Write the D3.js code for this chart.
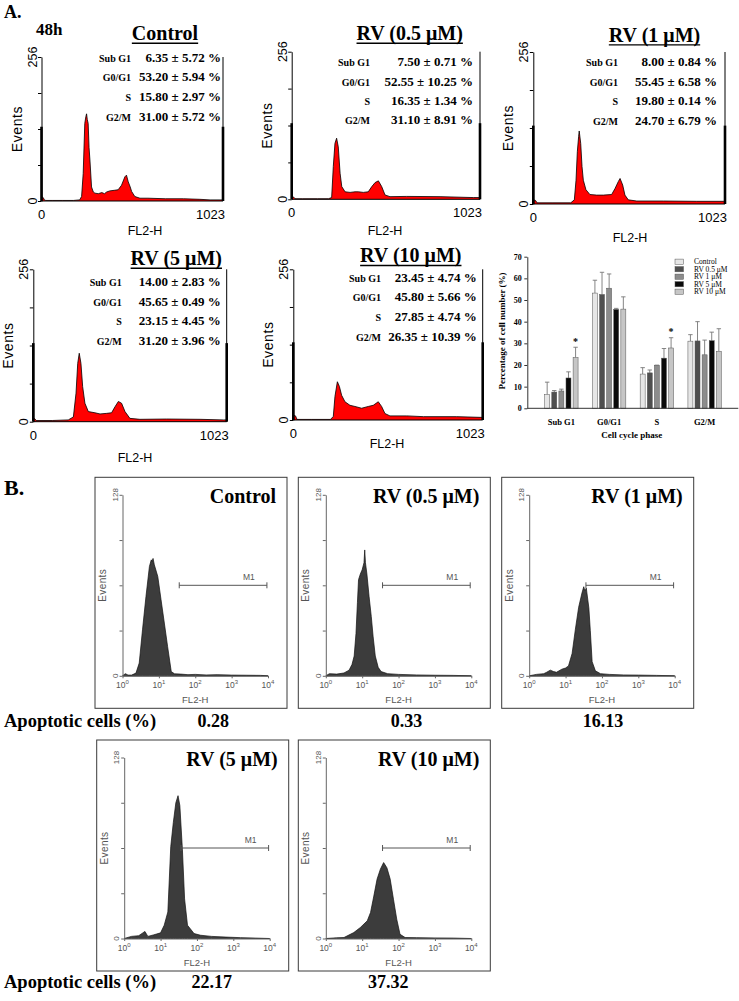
<!DOCTYPE html>
<html><head><meta charset="utf-8">
<script src="https://cdn.jsdelivr.net/npm/d3@7"></script>
<style>body{margin:0;background:#fff}svg{display:block}</style>
</head><body><svg id="c" width="739" height="1001"></svg>
<script>
// ---------------- DATA ----------------
const phases = ["Sub G1","G0/G1","S","G2/M"];
const groups = ["Control","RV 0.5 μM","RV 1 μM","RV 5 μM","RV 10 μM"];
const panelTitles = ["Control","RV (0.5 μM)","RV (1 μM)","RV (5 μM)","RV (10 μM)"];
// mean ± SD (%) per group, order: Sub G1, G0/G1, S, G2/M
const meanControl = [6.35,53.20,15.80,31.00];
const meanRV05 = [7.50,52.55,16.35,31.10];
const meanRV1 = [8.00,55.45,19.80,24.70];
const meanRV5 = [14.00,45.65,23.15,31.20];
const meanRV10 = [23.45,45.80,27.85,26.35];
const sdControl = [5.72,5.94,2.97,5.72];
const sdRV05 = [0.71,10.25,1.34,8.91];
const sdRV1 = [0.84,6.58,0.14,6.79];
const sdRV5 = [2.83,0.49,4.45,3.96];
const sdRV10 = [4.74,5.66,4.74,10.39];
// error bars as drawn in the bar chart
const errBarControl = [5.72,5.94,2.97,3.0];
const errBarRV05 = [0.71,10.25,1.34,8.91];
const errBarRV1 = [0.84,6.58,0.14,6.79];
const errBarRV5 = [2.83,0.49,4.45,3.96];
const errBarRV10 = [4.74,5.66,4.74,10.39];
const barTicks = [0,10,20,30,40,50,60,70];
const sigMarks = [["Sub G1","RV 10 μM"],["S","RV 10 μM"]];

// DNA-content histograms (FL2-H channel, events)
const histControl = [[0,8],[10,6],[16,2],[24,1],[60,1],[120,1],[180,1],[215,2],[226,8],[235,49],[244,138],[250,150],[254,155],[258,145],[263,138],[268,95],[273,73],[282,25],[292,16],[301,14],[320,13],[340,15],[355,13],[367,16],[385,18],[410,19],[432,20],[451,28],[470,43],[479,46],[489,34],[500,25],[508,17],[526,8],[555,5],[600,5],[700,4],[800,4],[893,3],[950,2],[1006,2],[1023,2]];
const histRV05 = [[0,5],[10,4],[18,1],[60,1],[140,1],[200,1],[217,3],[226,57],[235,97],[244,106],[253,91],[263,45],[272,22],[290,13],[317,12],[344,13],[362,13],[389,12],[416,13],[435,22],[453,29],[471,32],[489,22],[507,7.5],[534,4.6],[625,5],[806,4.6],[987,3],[1023,3]];
const histRV1 = [[0,7],[12,6],[20,2],[100,2],[200,2],[219,7],[228,40],[235,88],[242,114],[245,123],[253,102],[260,63],[267,40],[281,24],[302,16],[338,15],[374,15],[418,16],[436,26],[454,38],[463,43],[477,32],[489,15],[507,7],[552,5],[694,5],[872,4.5],[1014,4.5],[1023,4.5]];
const histRV5 = [[0,5.6],[8,5],[15,2],[100,2],[185,3],[212,8],[226,48],[235,98],[243,115],[252,98],[261,59],[273,31],[291,17],[326,15],[353,13],[388,14],[414,15],[432,25],[450,34],[467,31],[485,17],[511,5.6],[564,4],[705,4.5],[882,4],[1005,3],[1023,3]];
const histRV10 = [[0,8.5],[12,7],[20,1],[100,1],[200,1],[216,5.7],[225,40],[238,65],[249,57],[261,42],[279,31],[306,25],[333,23],[369,20],[405,23],[432,25],[459,31],[477,23],[495,11],[522,7],[613,7],[703,5.7],[883,5.7],[1009,4.5],[1023,4.5]];
const cycleHists = [histControl,histRV05,histRV1,histRV5,histRV10];
const edgePile = [132,132,132,132,132];
const eventTicksA = [0,64,128,192,256];

// Apoptosis histograms: [log10(FL2-H), events]
const apoControl = [[0,0],[0.08,1.5],[0.15,0.5],[0.25,0.5],[0.37,1.9],[0.46,9],[0.55,32.5],[0.645,56],[0.74,77.3],[0.79,82],[0.81,80.8],[0.84,83],[0.875,78.5],[0.97,70.2],[1.06,53.7],[1.15,37.3],[1.24,20.7],[1.34,3],[1.43,1.4],[1.6,1.2],[1.8,0.8],[2.0,1],[2.3,0.6],[2.6,0.8],[3.0,0.5],[3.4,0.4],[3.8,0.3],[4,0]];
const apoRV05 = [[0,0],[0.1,1.5],[0.3,1.2],[0.5,2],[0.64,4],[0.72,8],[0.78,14],[0.83,30],[0.87,52],[0.9,68],[0.95,72],[1.0,75],[1.05,80],[1.07,89],[1.09,80],[1.13,72],[1.19,56],[1.25,42],[1.3,28],[1.36,14],[1.44,6],[1.52,3],[1.7,1.5],[2.0,1],[2.5,0.6],[3,0.4],[3.5,0.3],[4,0]];
const apoRV1 = [[0,0],[0.2,1],[0.4,1.5],[0.48,2.5],[0.58,4],[0.67,3],[0.75,2.5],[0.9,4.7],[1.0,5.5],[1.08,7],[1.18,15.8],[1.27,33],[1.36,48.5],[1.45,58.5],[1.5,63],[1.53,60],[1.57,62],[1.64,48],[1.68,32],[1.73,10],[1.82,3.5],[1.96,1.5],[2.2,1],[2.6,0.6],[3,0.5],[3.5,0.3],[4,0]];
const apoRV5 = [[0,0],[0.2,1.5],[0.4,2],[0.57,5],[0.65,1.5],[0.8,2.5],[1.0,4],[1.1,9.4],[1.2,18.8],[1.28,65],[1.35,82],[1.42,96],[1.48,101],[1.53,94],[1.6,63],[1.66,28],[1.74,9.4],[1.92,3.5],[2.1,2.3],[2.4,1.5],[2.8,1],[3.2,0.6],[3.6,0.3],[4,0]];
const apoRV10 = [[0,0],[0.3,0.5],[0.5,0.7],[0.77,4.2],[0.95,7.8],[1.14,12.5],[1.23,18.4],[1.32,30],[1.41,42],[1.5,49],[1.59,53.7],[1.68,50],[1.77,42],[1.86,27.8],[1.95,13.7],[2.04,3],[2.18,0.7],[2.5,0.6],[3,0.4],[3.5,0.3],[4,0]];
const apoHists = [apoControl,apoRV05,apoRV1,apoRV5,apoRV10];
const apoptotic = ["0.28","0.33","16.13","22.17","37.32"];
const m1Range = [1.56,3.97]; // log10 FL2-H
const m1Level = 64;
const eventTicksB = [0,32,64,96,128];
const decades = [0,1,2,3,4];

// ---------------- DRAWING ----------------
const svg = d3.select("#c");
const serif = "'Liberation Serif','Times New Roman',serif";
const sans = "'Liberation Sans',Arial,sans-serif";
const means = [meanControl,meanRV05,meanRV1,meanRV5,meanRV10];
const sds = [sdControl,sdRV05,sdRV1,sdRV5,sdRV10];
const errs = [errBarControl,errBarRV05,errBarRV1,errBarRV5,errBarRV10];

function txt(g,x,y,s,size,opt={}){
  const t = g.append("text").attr("x",x).attr("y",y).text(s)
    .attr("font-family",opt.fam||serif).attr("font-size",size)
    .attr("font-weight",opt.w||"bold").attr("fill",opt.fill||"#000")
    .attr("text-anchor",opt.anchor||"start");
  if(opt.ls) t.attr("letter-spacing",opt.ls);
  return t;
}

txt(svg,4,18,"A.",18);
txt(svg,36,35,"48h",17);
txt(svg,4,495,"B.",22);

// Panel A layout
const layA = [
 {x0:41.5,x1:223,yT:57,yB:201,tx:165,ty:40,lr:131,vr:221,sy:[62.3,81.3,101.3,120.7],fx:145,fy:235},
 {x0:291.7,x1:480,yT:51.7,yB:199.3,tx:409.7,ty:40,lr:370,vr:473,sy:[65.7,85.7,104.7,124],fx:385,fy:235},
 {x0:533.3,x1:725,yT:52,yB:204,tx:654.5,ty:41.7,lr:618,vr:717,sy:[66.3,85.7,104.7,124.7],fx:630,fy:241.5},
 {x0:33.3,x1:226.7,yT:269.3,yB:421.7,tx:176.3,ty:265,lr:121.7,vr:220.7,sy:[286.3,305.7,324.7,344.7],fx:135,fy:461.5},
 {x0:293.3,x1:482.7,yT:269.3,yB:420,tx:410.8,ty:262.3,lr:381,vr:476.7,sy:[282,300.7,320.7,340.7],fx:387,fy:448.3}
];

layA.forEach((L,i)=>{
  const g = svg.append("g");
  const x = d3.scaleLinear().domain([0,1023]).range([L.x0,L.x1]);
  const y = d3.scaleLinear().domain([0,256]).range([L.yB,L.yT]);
  const data = cycleHists[i];
  g.append("path").datum(data)
    .attr("d",d3.area().x(d=>x(d[0])).y0(y(0)).y1(d=>y(d[1])))
    .attr("fill","#ff0000");
  g.append("path").datum(data)
    .attr("d",d3.line().x(d=>x(d[0])).y(d=>y(d[1])))
    .attr("fill","none").attr("stroke","#000").attr("stroke-width",0.8);
  const ax = g.append("g").attr("transform",`translate(${L.x0},0)`)
    .call(d3.axisLeft(y).tickValues(eventTicksA).tickSize(3.5).tickSizeOuter(0).tickFormat(""));
  ax.select(".domain").attr("stroke","#000").attr("stroke-width",1);
  ax.selectAll(".tick line").attr("stroke","#000");
  g.append("line").attr("x1",L.x1).attr("x2",L.x1).attr("y1",y(256)).attr("y2",y(0)).attr("stroke","#000").attr("stroke-width",1);
  g.append("line").attr("x1",L.x0).attr("x2",L.x1).attr("y1",y(0)).attr("y2",y(0)).attr("stroke","#000").attr("stroke-width",1);
  [0,1023].forEach(c=>{
    g.append("line").attr("x1",x(c)).attr("x2",x(c)).attr("y1",y(0)).attr("y2",y(edgePile[i]))
      .attr("stroke","#000").attr("stroke-width",2.6);
  });
  // axis texts
  txt(g,0,0,"256",12.5,{fam:sans,w:"normal",anchor:"middle"}).attr("transform",`translate(${L.x0-5},${L.yT}) rotate(-90)`);
  txt(g,0,0,"0",12.5,{fam:sans,w:"normal",anchor:"middle"}).attr("transform",`translate(${L.x0-5},${L.yB}) rotate(-90)`);
  txt(g,0,0,"Events",14,{fam:sans,w:"normal",anchor:"middle",ls:0.6}).attr("transform",`translate(${L.x0-20},${(L.yT+L.yB)/2}) rotate(-90)`);
  txt(g,x(0),L.yB+18,"0",13,{fam:sans,w:"normal",anchor:"middle"});
  txt(g,x(1023)+2,L.yB+18,"1023",13,{fam:sans,w:"normal",anchor:"end"});
  txt(g,L.fx,L.fy,"FL2-H",12.5,{fam:sans,w:"normal",anchor:"middle"});
  // title with underline
  const t = txt(g,L.tx,L.ty,panelTitles[i],20,{anchor:"middle"});
  const w = t.node().getComputedTextLength();
  g.append("line").attr("x1",L.tx-w/2).attr("x2",L.tx+w/2).attr("y1",L.ty+3.2).attr("y2",L.ty+3.2).attr("stroke","#000").attr("stroke-width",1.4);
  // stats
  phases.forEach((p,k)=>{
    txt(g,L.lr,L.sy[k],p,10,{anchor:"end"});
    txt(g,L.vr,L.sy[k],`${means[i][k].toFixed(2)} ± ${sds[i][k].toFixed(2)} %`,13,{anchor:"end"});
  });
});

// ---------------- Bar chart ----------------
(function(){
  const g = svg.append("g");
  const colors = ["#e6e6e6","#4f4f4f","#8c8c8c","#0a0a0a","#c6c6c6"];
  const xP = d3.scaleBand().domain(phases).range([537.5,728.5]).padding(0);
  const xG = d3.scaleBand().domain(groups).range([-16.7,16.7]).paddingInner(0.3).paddingOuter(0);
  const y = d3.scaleLinear().domain([0,70]).range([408.3,256.7]);
  const rows = [];
  groups.forEach((gr,gi)=>phases.forEach((p,pi)=>rows.push({gr,gi,p,pi,v:means[gi][pi],e:errs[gi][pi]})));
  // error bars
  rows.forEach(d=>{
    const cx = xP(d.p)+xP.bandwidth()/2+xG(d.gr)+xG.bandwidth()/2;
    g.append("line").attr("x1",cx).attr("x2",cx).attr("y1",y(d.v)).attr("y2",y(d.v+d.e)).attr("stroke","#777").attr("stroke-width",0.9);
    g.append("line").attr("x1",cx-2.2).attr("x2",cx+2.2).attr("y1",y(d.v+d.e)).attr("y2",y(d.v+d.e)).attr("stroke","#777").attr("stroke-width",0.9);
  });
  g.selectAll("rect.bar").data(rows).enter().append("rect")
    .attr("x",d=>xP(d.p)+xP.bandwidth()/2+xG(d.gr))
    .attr("width",xG.bandwidth())
    .attr("y",d=>y(d.v)).attr("height",d=>y(0)-y(d.v))
    .attr("fill",d=>colors[d.gi]).attr("stroke","#555").attr("stroke-width",0.5);
  // significance
  sigMarks.forEach(([p,gr])=>{
    const gi = groups.indexOf(gr), pi = phases.indexOf(p);
    const cx = xP(p)+xP.bandwidth()/2+xG(gr)+xG.bandwidth()/2;
    txt(g,cx,y(means[gi][pi]+errs[gi][pi])-2.5,"*",10,{anchor:"middle"});
  });
  const ax = g.append("g").attr("transform","translate(527.3,0)")
    .call(d3.axisLeft(y).tickValues(barTicks).tickSize(3).tickSizeOuter(0).tickPadding(2.5));
  ax.select(".domain").attr("stroke","#333");
  ax.selectAll(".tick line").attr("stroke","#333");
  ax.selectAll(".tick text").attr("font-family",serif).attr("font-weight","bold").attr("font-size",8);
  g.append("line").attr("x1",527.3).attr("x2",738.3).attr("y1",y(0)).attr("y2",y(0)).attr("stroke","#333");
  phases.forEach(p=>txt(g,xP(p)+xP.bandwidth()/2,425,p,8.5,{anchor:"middle"}));
  txt(g,631.7,437.5,"Cell cycle phase",9,{anchor:"middle"});
  txt(g,0,0,"Percentage of cell number (%)",9,{anchor:"middle"}).attr("transform","translate(505,331) rotate(-90)");
  // legend
  groups.forEach((gr,gi)=>{
    const cy = 261.7+gi*7.5;
    g.append("rect").attr("x",675).attr("y",cy-2.6).attr("width",8.5).attr("height",5.2)
      .attr("fill",colors[gi]).attr("stroke","#555").attr("stroke-width",0.5);
    txt(g,694,cy+2.5,gr,7.5,{w:"normal"});
  });
})();

// ---------------- Panel B ----------------
const layB = [
 {x:95,y:477.3,lx:213.3,ly:726.7},
 {x:298.3,y:477.3,lx:406.5,ly:726.7},
 {x:501.7,y:477.3,lx:603,ly:726.7},
 {x:96.7,y:740,lx:211.7,ly:988},
 {x:298.3,y:740,lx:388.3,ly:988}
];
const boxW = 192, boxH = 231;
const grey = "#666";
layB.forEach((B,i)=>{
  const g = svg.append("g");
  g.append("rect").attr("x",B.x).attr("y",B.y).attr("width",boxW).attr("height",boxH)
    .attr("fill","none").attr("stroke","#3a3a3a").attr("stroke-width",1);
  const x0 = B.x+27.5, x1 = x0+145.5, yT = B.y+17.5, yB = B.y+198.5;
  const x = d3.scaleLog().domain([1,1e4]).range([x0,x1]);
  const y = d3.scaleLinear().domain([0,128]).range([yB,yT]);
  const data = apoHists[i];
  g.append("path").datum(data)
    .attr("d",d3.area().x(d=>x(Math.pow(10,d[0]))).y0(y(0)).y1(d=>y(d[1])))
    .attr("fill","#3c3c3c").attr("stroke","#111").attr("stroke-width",0.7);
  const ay = g.append("g").attr("transform",`translate(${x0},0)`)
    .call(d3.axisLeft(y).tickValues(eventTicksB).tickSize(3).tickSizeOuter(0).tickFormat(""));
  ay.select(".domain").attr("stroke",grey);
  ay.selectAll(".tick line").attr("stroke",grey);
  const axx = g.append("g").attr("transform",`translate(0,${yB})`)
    .call(d3.axisBottom(x).tickValues(decades.map(d=>Math.pow(10,d))).tickSize(2.5).tickSizeOuter(0).tickFormat(""));
  axx.select(".domain").attr("stroke",grey);
  axx.selectAll(".tick line").attr("stroke",grey);
  decades.forEach(k=>{
    const t = txt(g,x(Math.pow(10,k)),yB+12,"10",8.5,{fam:sans,w:"normal",anchor:"middle",fill:"#555"});
    t.append("tspan").attr("dy",-3.5).attr("font-size",6).text(k);
  });
  txt(g,(x0+x1)/2,B.y+226,"FL2-H",9.5,{fam:sans,w:"normal",anchor:"middle",fill:"#555"});
  txt(g,0,0,"128",8,{fam:sans,w:"normal",anchor:"middle",fill:"#555"}).attr("transform",`translate(${x0-5},${yT}) rotate(-90)`);
  txt(g,0,0,"0",8,{fam:sans,w:"normal",anchor:"middle",fill:"#555"}).attr("transform",`translate(${x0-5},${yB}) rotate(-90)`);
  txt(g,0,0,"Events",10,{fam:sans,w:"normal",anchor:"middle",fill:"#555",ls:0.4}).attr("transform",`translate(${x0-16.5},${(yT+yB)/2}) rotate(-90)`);
  // M1 marker
  const mx0 = x(Math.pow(10,m1Range[0])), mx1 = x(Math.pow(10,m1Range[1])), my = y(m1Level);
  g.append("line").attr("x1",mx0).attr("x2",mx1).attr("y1",my).attr("y2",my).attr("stroke","#555").attr("stroke-width",1);
  [mx0,mx1].forEach(mx=>g.append("line").attr("x1",mx).attr("x2",mx).attr("y1",my-3).attr("y2",my+3).attr("stroke","#555").attr("stroke-width",1));
  txt(g,mx1-18,my-5,"M1",8.5,{fam:sans,w:"normal",anchor:"middle",fill:"#555"});
  // title
  txt(g,B.x+181,B.y+26,panelTitles[i],20,{anchor:"end"});
  // apoptotic value
  txt(svg,B.lx,B.ly,apoptotic[i],18,{anchor:"middle"});
});
txt(svg,4,726.7,"Apoptotic cells (%)",18.5);
txt(svg,4,988,"Apoptotic cells (%)",18.5);
</script></body></html>
